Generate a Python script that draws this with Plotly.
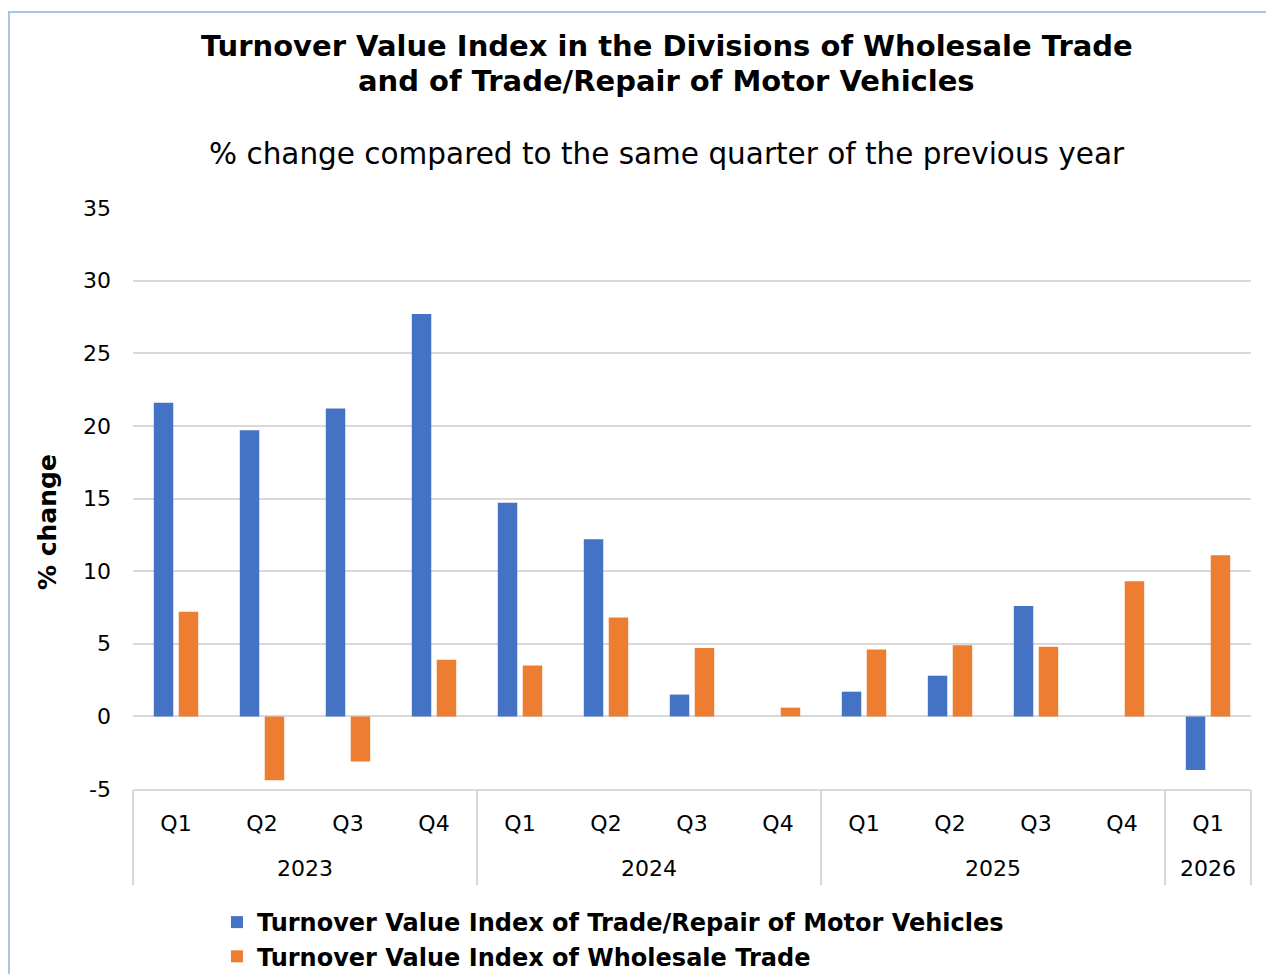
import plotly.graph_objects as go

years = ["2023"] * 4 + ["2024"] * 4 + ["2025"] * 4 + ["2026"]
quarters = ["Q1", "Q2", "Q3", "Q4", "Q1", "Q2", "Q3", "Q4", "Q1", "Q2", "Q3", "Q4", "Q1"]

motor_vehicles = [21.6, 19.7, 21.2, 27.7, 14.7, 12.2, 1.5, None, 1.7, 2.8, 7.6, None, -3.7]
wholesale = [7.2, -4.4, -3.1, 3.9, 3.5, 6.8, 4.7, 0.6, 4.6, 4.9, 4.8, 9.3, 11.1]

y_tick_values = [-5, 0, 5, 10, 15, 20, 25, 30, 35]
y_tick_labels = ["-5", "0", "5", "10", "15", "20", "25", "30", "35"]

name_mv = "Turnover Value Index of Trade/Repair of Motor Vehicles"
name_ws = "Turnover Value Index of Wholesale Trade"
title_line1 = "Turnover Value Index in the Divisions of Wholesale Trade"
title_line2 = "and of Trade/Repair of Motor Vehicles"
subtitle = "% change compared to the same quarter of the previous year"
y_title = "% change"

FONT = "DejaVu Sans"
GRID = "#D9D9D9"

# category ids (one per quarter) and year groups derived from the label arrays
cat_ids = [f"{y} {q}" for y, q in zip(years, quarters)]
year_names = []
for y in years:
    if y not in year_names:
        year_names.append(y)
year_idx = {y: [i for i, v in enumerate(years) if v == y] for y in year_names}
year_centers = [(min(ix) + max(ix)) / 2 for ix in year_idx.values()]
boundaries = [-0.5] + [max(ix) + 0.5 for ix in year_idx.values()]
x_range = [-0.5, len(cat_ids) - 0.5]

fig = go.Figure()
fig.add_trace(go.Bar(x=cat_ids, y=motor_vehicles, name=name_mv,
                     marker=dict(color="#4472C4", line=dict(width=0))))
fig.add_trace(go.Bar(x=cat_ids, y=wholesale, name=name_ws,
                     marker=dict(color="#ED7D31", line=dict(width=0))))
# invisible helper traces so the year-label axis and the divider axis are drawn
for ax in ("x2", "x3"):
    fig.add_trace(go.Scatter(x=x_range, y=[None, None], xaxis=ax, yaxis="y",
                             mode="markers", marker=dict(opacity=0),
                             showlegend=False, hoverinfo="skip"))

fig.update_layout(
    width=1266, height=966,
    margin=dict(l=125, r=23, t=200, b=185),
    paper_bgcolor="white", plot_bgcolor="white",
    font=dict(family=FONT, color="black", size=22),
    barmode="group", bargap=0.42, bargroupgap=0.22,
    showlegend=True,
    legend=dict(orientation="v", xref="paper", yref="container",
                x=0.0751, y=0.0766, xanchor="left", yanchor="top",
                font=dict(family=FONT, size=24, color="black", weight="bold"),
                itemwidth=30, tracegroupgap=0, bgcolor="rgba(0,0,0,0)"),
    xaxis=dict(type="category", categoryorder="array", categoryarray=cat_ids,
               range=x_range, tickvals=cat_ids, ticktext=quarters,
               showgrid=False, zeroline=False, showline=True, linecolor=GRID, linewidth=2,
               ticks="", ticklabelstandoff=14,
               tickfont=dict(family=FONT, size=22, color="black")),
    xaxis2=dict(type="linear", overlaying="x", anchor="y", side="bottom", range=x_range,
                tickvals=year_centers, ticktext=year_names,
                showgrid=False, zeroline=False, showline=False, ticks="",
                ticklabelstandoff=64,
                tickfont=dict(family=FONT, size=22, color="black")),
    xaxis3=dict(type="linear", overlaying="x", anchor="y", side="bottom", range=x_range,
                tickvals=boundaries, showticklabels=False,
                showgrid=False, zeroline=False, showline=False,
                ticks="outside", ticklen=95, tickwidth=2, tickcolor=GRID),
    yaxis=dict(range=[-5, 35], tickvals=y_tick_values, ticktext=y_tick_labels,
               showgrid=True, gridcolor=GRID, gridwidth=2,
               zeroline=True, zerolinecolor=GRID, zerolinewidth=2, showline=False,
               ticks="", ticklabelstandoff=21,
               tickfont=dict(family=FONT, size=22, color="black")),
    annotations=[
        dict(text="<b>" + title_line1 + "</b>",
             xref="paper", yref="paper", x=0.4776, y=1.2788, xanchor="center", yanchor="middle",
             showarrow=False, font=dict(family=FONT, size=29, color="black")),
        dict(text="<b>" + title_line2 + "</b>",
             xref="paper", yref="paper", x=0.4776, y=1.2186, xanchor="center", yanchor="middle",
             showarrow=False, font=dict(family=FONT, size=29, color="black")),
        dict(text=subtitle,
             xref="paper", yref="paper", x=0.4776, y=1.093, xanchor="center", yanchor="middle",
             showarrow=False, font=dict(family=FONT, size=29.5, color="black")),
        dict(text="<b>" + y_title + "</b>", textangle=-90,
             xref="paper", yref="paper", x=-0.076, y=0.4596, xanchor="center", yanchor="middle",
             showarrow=False, font=dict(family=FONT, size=25, color="black")),
    ],
    shapes=[
        dict(type="rect", xref="paper", yref="paper", x0=-0.1109, x1=1.2, y0=-0.5, y1=1.3373,
             line=dict(color="#A9C4EB", width=2), fillcolor="rgba(0,0,0,0)", layer="below"),
    ],
)

fig.write_html("out.html")
